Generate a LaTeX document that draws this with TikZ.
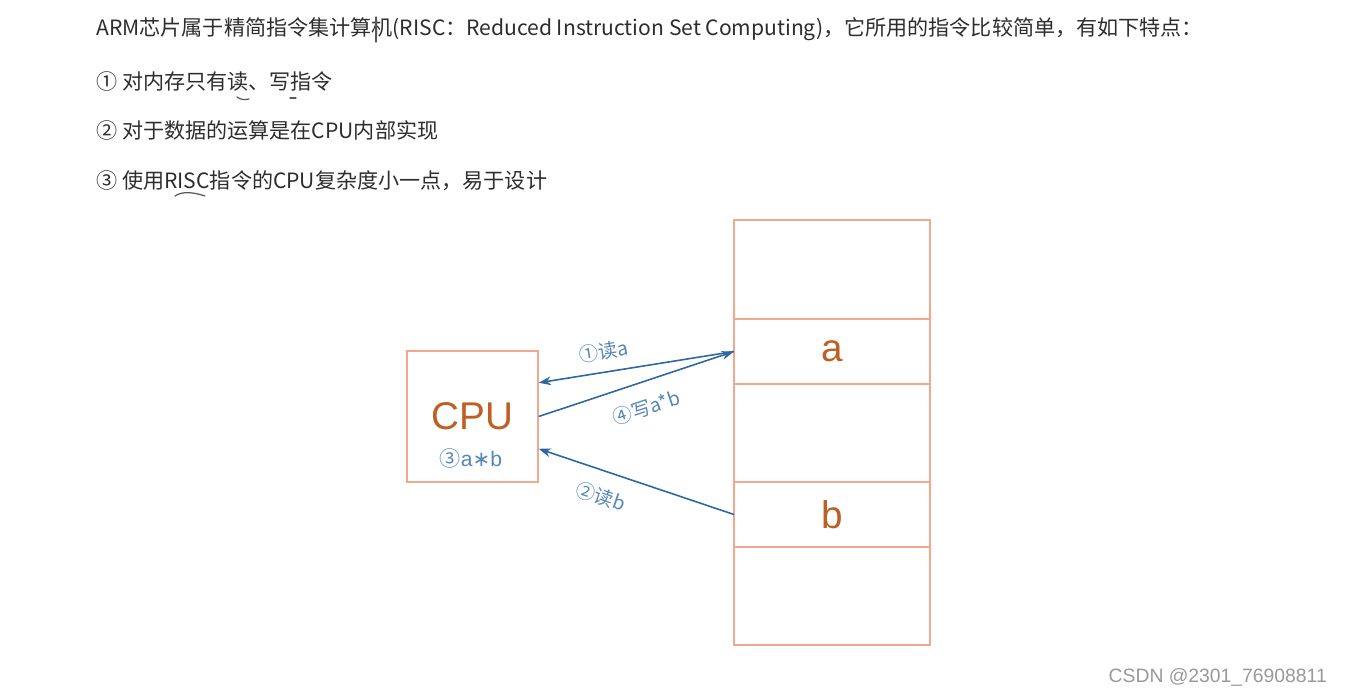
\documentclass[tikz,border=0pt]{standalone}
\usepackage{fontspec}
\setmainfont{Liberation Sans}
\newfontfamily\cjk{Noto Sans CJK SC}
\newfontfamily\symfont{DejaVu Sans}
\usetikzlibrary{positioning,arrows.meta}
\definecolor{memline}{RGB}{242,168,140}
\definecolor{memtext}{RGB}{190,95,35}
\definecolor{arrowblue}{RGB}{45,105,160}
\definecolor{labelblue}{RGB}{85,135,185}
\definecolor{bodytext}{RGB}{45,45,45}

\begin{document}
\begin{tikzpicture}[font=\cjk\fontsize{12}{14}\selectfont,
  line/.style={anchor=west,text=bodytext,inner sep=0pt},
  cell/.style={draw=memline,line width=.8pt,outer sep=0pt,inner sep=0pt,minimum width=3.92cm},
  celltext/.style={text=memtext,font=\fontsize{22}{26}\selectfont},
  wire/.style={draw=arrowblue,line width=.9pt,-{Stealth[length=7pt,width=5pt]}},
  tag/.style={text=labelblue,font=\cjk\fontsize{11}{13}\selectfont,sloped,inner sep=0pt},
  scribble/.style={draw=bodytext!80,line width=.7pt,line cap=round}]
\fill[white] (0,0) rectangle (26.9,13.9);
\useasboundingbox (0,0) rectangle (26.9,13.9);
\node[line] (intro) at (1.92,13.32) {ARM芯片属于精简指令集计算机(RISC：Reduced Instruction Set Computing)，它所用的指令比较简单，有如下特点：};
\node[line] (pt1) at (1.92,12.28) {① 对内存只有读、写指令};
\node[line] (pt2) at (1.92,11.30) {② 对于数据的运算是在CPU内部实现};
\node[line] (pt3) at (1.92,10.28) {③ 使用RISC指令的CPU复杂度小一点，易于设计};
\draw[scribble,line width=.6pt] (7.52,13.56) -- (7.52,13.06);
\draw[scribble] (4.74,11.96) .. controls (4.82,11.9) and (4.9,11.9) .. (4.98,11.92);
\draw[scribble] (5.8,11.94) -- (5.92,11.94);
\draw[scribble] (3.5,9.98) .. controls (3.65,10.08) and (3.85,10.06) .. (4.1,9.98);
\node[cell,minimum height=1.98cm] (mtop) at (16.64,8.51) {};
\node[cell,celltext,minimum height=1.3cm,below=0pt of mtop] (ma) {a};
\node[cell,minimum height=1.96cm,below=0pt of ma] (mmid) {};
\node[cell,celltext,minimum height=1.3cm,below=0pt of mmid] (mb) {b};
\node[cell,minimum height=1.96cm,below=0pt of mb] (mbot) {};
\node[draw=memline,line width=.8pt,minimum size=2.62cm] (cpu) at (9.45,5.57) {};
\node[celltext] (cputext) at (9.45,5.58) {CPU};
\node[text=labelblue,font=\fontsize{12}{14}\selectfont] (mul) at (9.42,4.74) {{\cjk ③}a{\symfont ∗}b};
\draw[wire] (ma.west) -- (cpu.27) node[tag,pos=.65,above=6pt] {①读a};
\draw[wire] (cpu.east) -- (ma.west) node[tag,pos=.51,below=9pt] {④写a*b};
\draw[wire] (mb.west) -- (cpu.-26) node[tag,pos=.64,below=9pt] {②读b};
\node[anchor=east,text=black!40,font=\fontsize{11}{13}\selectfont] (wmark) at (26.66,0.36) {CSDN @2301\_76908811};
\end{tikzpicture}
\end{document}
